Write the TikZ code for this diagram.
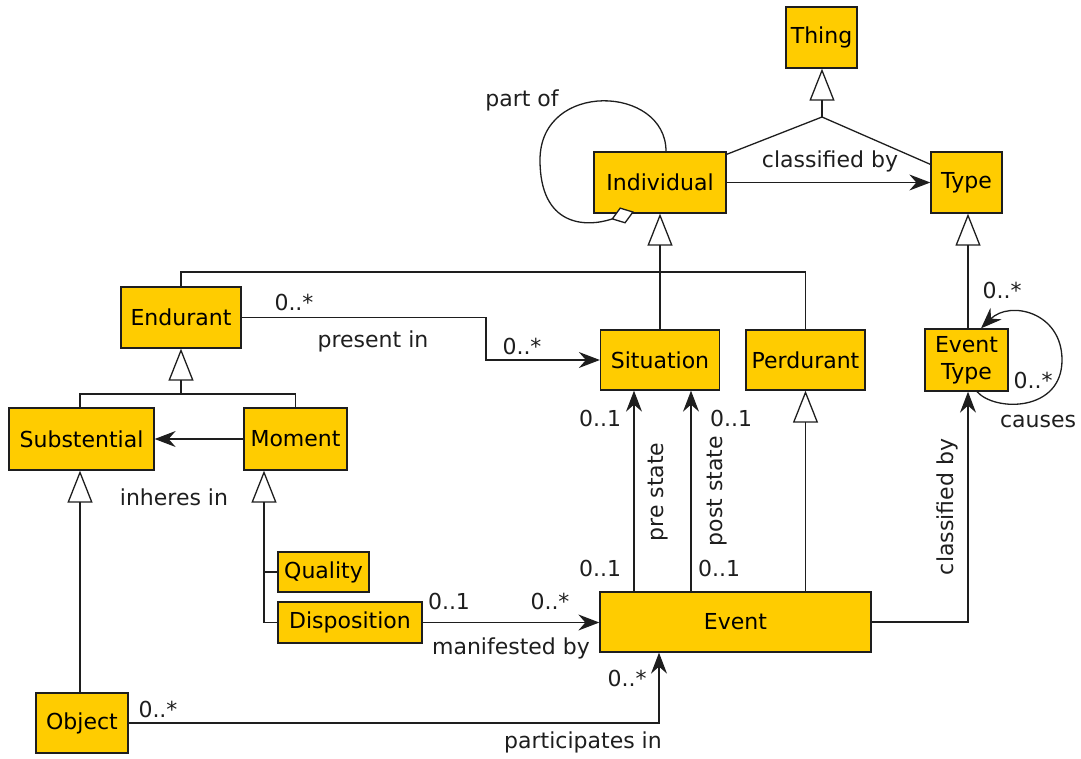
\documentclass[tikz,border=0pt]{standalone}
\usepackage{fontspec}
\setmainfont{DejaVu Sans}
\usetikzlibrary{arrows.meta,calc}
\definecolor{umlyellow}{RGB}{255,204,0}
\definecolor{ink}{RGB}{30,30,30}

\begin{document}
\begin{tikzpicture}[x=1pt,y=-1pt,
  font=\fontsize{22}{27}\selectfont,
  cls/.style={draw=ink, fill=umlyellow, line width=1.3pt, inner sep=0pt, align=center, text=black},
  conn/.style={draw=ink, line width=1.3pt},
  assoc/.style={conn, -{Stealth[length=21pt,width=16pt,inset=7pt]}},
  gen/.style={conn, -{Triangle[open,length=32pt,width=25pt]}},
  agg/.style={conn, -{Diamond[length=24pt,width=17pt,fill=white]}},
  lbl/.style={inner sep=0pt, text=ink}
]
\useasboundingbox (0,0) rectangle (1081,758);

% classes
\node[cls, minimum width=71pt,  minimum height=61pt] (thing)       at (821.5,37.5)  {Thing};
\node[cls, minimum width=132pt, minimum height=61pt] (individual)  at (660,182.5)   {Individual};
\node[cls, minimum width=71pt,  minimum height=61pt] (type)        at (966.5,182.5) {Type};
\node[cls, minimum width=120pt, minimum height=61pt] (endurant)    at (181,317.5)   {Endurant};
\node[cls, minimum width=119pt, minimum height=60pt] (situation)   at (660,360)     {Situation};
\node[cls, minimum width=119pt, minimum height=60pt] (perdurant)   at (805.5,360)   {Perdurant};
\node[cls, minimum width=83pt,  minimum height=62pt] (eventtype)   at (966.5,360)   {Event\\Type};
\node[cls, minimum width=145pt, minimum height=62pt] (substential) at (81.5,439)    {Substential};
\node[cls, minimum width=103pt, minimum height=62pt] (moment)      at (295.5,439)   {Moment};
\node[cls, minimum width=91pt,  minimum height=40pt] (quality)     at (323.5,572)   {Quality};
\node[cls, minimum width=144pt, minimum height=41pt] (disposition) at (350,622.5)   {Disposition};
\node[cls, minimum width=271pt, minimum height=60pt] (event)       at (735.5,622)   {Event};
\node[cls, minimum width=92pt,  minimum height=60pt] (object)      at (82,723)      {Object};

% junction points of generalization trees
\coordinate (thingJ) at (822,117);
\coordinate (topJ)   at (660,272);
\coordinate (endJ)   at (181,394);
\coordinate (presJ)  at (486,340);

% Individual and Type specialise Thing
\draw[conn] ([yshift=-3pt]individual.north east) -- (thingJ) -- ([yshift=-13pt]type.north west);
\draw[gen] (thingJ) -- (thingJ |- thing.south);

% classified by
\draw[assoc] (individual) -- (type);
\node[lbl] (lclass) at (830,161) {classified by};

% part of (aggregation loop on Individual)
\draw[agg] ([xshift=6pt]individual.north) .. controls (666,85) and (540,80) .. (540,160)
  .. controls (540,226) and (585,228) .. ([xshift=-26pt,yshift=2pt]individual.south);
\node[lbl] (lpart) at (522,100) {part of};

% Endurant, Situation, Perdurant specialise Individual
\draw[conn] (endurant.north) -- (endurant.north |- topJ) -| (perdurant.north);
\draw[gen] (situation.north) -- (individual.south);

% present in
\draw[assoc] (endurant.east) -| (presJ) |- (situation.west);
\node[lbl] (lpres1) at (294,302) {0..*};
\node[lbl] (lpres)  at (373,341) {present in};
\node[lbl] (lpres2) at (522,346) {0..*};

% Substential and Moment specialise Endurant
\draw[conn] ([xshift=-1.5pt]substential.north) -- ([xshift=-1.5pt]substential.north |- endJ) -| (moment.north);
\draw[gen] (endJ) -- (endurant.south);

% inheres in
\draw[assoc] (moment.west) -- (substential.east);
\node[lbl] (linh) at (174,497) {inheres in};

% Object specialises Substential
\draw[gen] ([xshift=-2pt]object.north) -- ([xshift=-2pt]object.north |- substential.south);

% Quality and Disposition specialise Moment
\draw[gen] (disposition.west) -| ([xshift=-31.5pt]moment.south);
\draw[conn] (quality.west) -- ++(-14,0);

% manifested by
\draw[assoc] (disposition.east) -- (disposition.east -| event.west);
\node[lbl] (lman1) at (449,601) {0..1};
\node[lbl] (lman2) at (550,601) {0..*};
\node[lbl] (lman)  at (511,648) {manifested by};

% participates in
\draw[assoc] (object.east) -| ([xshift=-76.5pt]event.south);
\node[lbl] (lpar1) at (158,709) {0..*};
\node[lbl] (lpar2) at (627,678) {0..*};
\node[lbl] (lpar)  at (583,742) {participates in};

% pre state / post state
\draw[assoc] ([xshift=-101.5pt]event.north) -- ([xshift=-101.5pt]event.north |- situation.south);
\draw[assoc] ([xshift=-44.5pt]event.north) -- ([xshift=-44.5pt]event.north |- situation.south);
\node[lbl] (lpre1)  at (600,418) {0..1};
\node[lbl] (lpre2)  at (600,568) {0..1};
\node[lbl] (lpost1) at (731,418) {0..1};
\node[lbl] (lpost2) at (719,568) {0..1};
\node[lbl, rotate=90] (lpre)  at (658,492) {pre state};
\node[lbl, rotate=90] (lpost) at (717,491) {post state};

% Event specialises Perdurant
\draw[gen] (event.north -| perdurant.south) -- (perdurant.south);

% Event classified by Event Type
\draw[assoc] (event.east) -| ([xshift=1.5pt]eventtype.south);
\node[lbl, rotate=90] (lclass2) at (947,507) {classified by};

% Event Type specialises Type
\draw[gen] ([xshift=1.5pt]eventtype.north) -- ([xshift=1.5pt]eventtype.north |- type.south);

% causes (loop on Event Type)
\draw[assoc] ([xshift=10.5pt]eventtype.south) .. controls (995,412) and (1062,412) .. (1062,360)
  .. controls (1062,312) and (1010,300) .. ([xshift=14.5pt]eventtype.north);
\node[lbl] (lcau1) at (1002,290) {0..*};
\node[lbl] (lcau2) at (1033,380) {0..*};
\node[lbl] (lcau)  at (1038,421) {causes};

\end{tikzpicture}
\end{document}
